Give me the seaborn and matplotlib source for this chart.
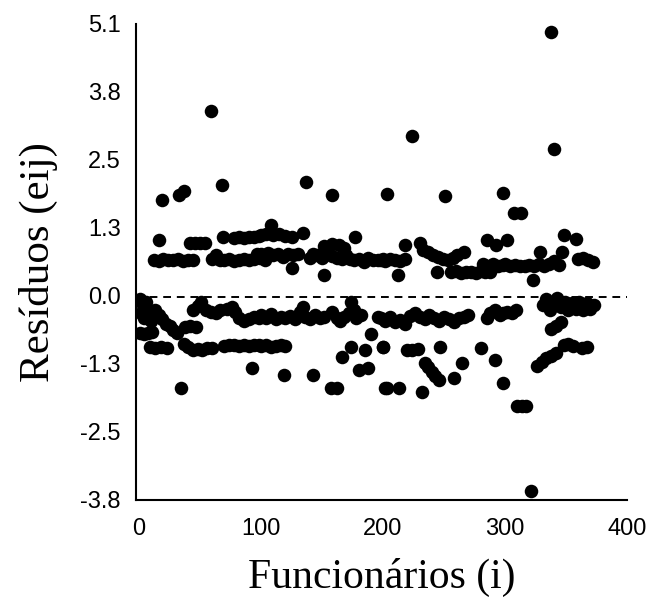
import matplotlib
matplotlib.use("Agg")
import matplotlib.pyplot as plt
import seaborn as sns
import pandas as pd
from matplotlib import font_manager

# ---- data ----
funcionario_a = [1, 2, 3, 4, 5, 6, 8, 10, 1, 4, 7, 11, 13, 16, 19, 22, 25, 28, 31,
                 9, 13, 18, 23, 34, 16, 19, 33, 37, 12, 16, 20, 24, 28, 32, 36, 40, 44]
residuo_a = [-0.05, -0.30, -0.15, -0.40, -0.25, -0.10, -0.35, -0.45, -0.68, -0.70, -0.68, -0.66,
             -0.25, -0.35, -0.42, -0.50, -0.55, -0.62, -0.68,
             -0.94, -0.95, -0.94, -0.95, -1.70, 1.06, 1.81, 1.90, 1.97,
             0.69, 0.67, 0.70, 0.69, 0.68, 0.70, 0.67, 0.69, 0.68]

funcionario_b = [42, 46, 50, 54, 59, 68, 69, 78, 82, 86, 90, 94, 98,
                 60, 63, 66, 70, 74, 78, 82, 86, 90, 94, 97, 99,
                 38, 42, 47, 44, 48, 51, 55, 59, 63, 66,
                 37, 40, 44, 48, 52, 56, 60,
                 70, 74, 78, 82, 86, 90, 94, 98,
                 72, 76, 79, 82, 86, 90, 94, 98, 93]
residuo_b = [1.00, 1.00, 1.01, 1.00, 3.47, 2.09, 1.12, 1.10, 1.12, 1.10, 1.12, 1.11, 1.13,
             0.70, 0.78, 0.69, 0.68, 0.70, 0.66, 0.69, 0.71, 0.68, 0.70, 0.80, 0.72,
             -0.56, -0.55, -0.57, -0.25, -0.18, -0.10, -0.25, -0.28, -0.30, -0.25,
             -0.88, -0.93, -1.00, -0.98, -0.99, -0.96, -0.95,
             -0.92, -0.90, -0.91, -0.92, -0.90, -0.92, -0.91, -0.90,
             -0.22, -0.20, -0.28, -0.40, -0.45, -0.42, -0.38, -0.40, -1.33]

funcionario_c = [108, 100, 104, 110, 115, 120, 125, 134, 137, 158, 177,
                 100, 103, 106, 110, 114, 118, 122, 126, 130, 125,
                 140, 143, 146, 150, 152, 154, 158, 162, 166, 170, 173,
                 152, 158, 164, 168,
                 176, 180, 184, 188, 192, 196, 200,
                 100, 104, 108, 112, 116, 120, 124, 128, 132, 134, 136, 140, 144, 148, 152,
                 158, 162, 165, 168, 172, 174, 176, 178, 182, 196,
                 100, 104, 108, 112, 116, 120,
                 119, 143, 157, 162,
                 166, 174, 180, 185, 188, 190, 200, 202]
residuo_c = [1.34, 1.15, 1.18, 1.15, 1.18, 1.14, 1.12, 1.20, 2.14, 1.90, 1.12,
             0.80, 0.69, 0.82, 0.78, 0.80, 0.75, 0.80, 0.78, 0.80, 0.54,
             0.72, 0.80, 0.78, 0.72, 0.41, 0.80, 0.76, 0.72, 0.70, 0.78, 0.70,
             0.95, 0.98, 0.96, 0.92,
             0.69, 0.70, 0.65, 0.72, 0.69, 0.68, 0.70,
             -0.35, -0.40, -0.33, -0.42, -0.38, -0.40, -0.36, -0.42, -0.28, -0.20, -0.38, -0.42, -0.35, -0.40, -0.38,
             -0.28, -0.40, -0.45, -0.38, -0.30, -0.10, -0.25, -0.40, -0.35, -0.38,
             -0.92, -0.90, -0.93, -0.92, -0.90, -0.92,
             -1.46, -1.46, -1.70, -1.70,
             -1.13, -0.94, -1.37, -1.00, -1.33, -0.70, -0.94, -1.70]

funcionario_d = [203, 224, 218, 230, 251, 298, 285, 293,
                 198, 202, 206, 210, 214, 218, 212,
                 233, 237, 241, 245, 249, 253, 257, 261, 266,
                 244, 256, 260, 264, 268, 272, 276, 280, 284, 288,
                 282, 286, 290, 294, 298,
                 198, 202, 206, 210, 214, 218, 222, 226, 230, 234, 238, 242, 246, 250, 254, 258, 262, 266, 270,
                 285, 288, 292, 296,
                 200, 220, 224, 229, 247,
                 234, 237, 240, 243, 246,
                 265, 258, 280, 292,
                 203, 213, 232, 298]
residuo_d = [1.92, 3.00, 0.97, 1.00, 1.88, 1.94, 1.06, 0.97,
             0.69, 0.66, 0.70, 0.68, 0.67, 0.70, 0.41,
             0.87, 0.84, 0.78, 0.74, 0.70, 0.68, 0.72, 0.78, 0.84,
             0.46, 0.46, 0.48, 0.45, 0.47, 0.46, 0.44, 0.48, 0.46, 0.47,
             0.62, 0.58, 0.62, 0.58, 0.60,
             -0.40, -0.45, -0.38, -0.48, -0.44, -0.50, -0.36, -0.30, -0.38, -0.42, -0.35, -0.40, -0.45, -0.38, -0.42, -0.48, -0.40, -0.38, -0.35,
             -0.40, -0.30, -0.25, -0.35,
             -0.94, -1.00, -1.00, -0.98, -0.94,
             -1.24, -1.32, -1.40, -1.48, -1.56,
             -1.24, -1.52, -0.96, -1.18,
             -1.70, -1.70, -1.78, -1.62]

funcionario_e = [338, 340, 302, 307, 313, 348, 358,
                 300, 304, 308, 312, 316, 320, 324, 328, 332, 336, 340, 344, 323, 329, 347,
                 360, 364, 368, 372,
                 298, 302, 306, 309,
                 331, 334, 337, 340, 343, 346, 349, 352, 355, 358, 361, 364, 367, 370, 373,
                 338, 342, 346,
                 348, 352, 356, 363, 367,
                 326, 330, 334, 338, 342,
                 310, 314, 317, 321]
residuo_e = [4.95, 2.76, 1.06, 1.57, 1.57, 1.16, 1.08,
             0.62, 0.58, 0.60, 0.58, 0.57, 0.60, 0.58, 0.62, 0.58, 0.62, 0.66, 0.60, 0.32, 0.84, 0.84,
             0.70, 0.72, 0.68, 0.65,
             -0.30, -0.28, -0.30, -0.25,
             -0.15, -0.05, -0.25, -0.10, -0.02, -0.20, -0.10, -0.25, -0.12, -0.22, -0.10, -0.25, -0.12, -0.22, -0.15,
             -0.60, -0.55, -0.48,
             -0.90, -0.88, -0.92, -0.95, -0.93,
             -1.30, -1.22, -1.15, -1.10, -1.05,
             -2.05, -2.05, -2.05, -3.63]

y_ticks_labels = ["-3.8", "-2.5", "-1.3", "0.0", "1.3", "2.5", "3.8", "5.1"]
x_ticks = [0, 100, 200, 300, 400]

df = pd.DataFrame({
    "i": funcionario_a + funcionario_b + funcionario_c + funcionario_d + funcionario_e,
    "e": residuo_a + residuo_b + residuo_c + residuo_d + residuo_e,
})

sns.set_style("white")
installed = {f.name for f in font_manager.fontManager.ttflist}
tick_family = ["Liberation Sans Narrow"] if "Liberation Sans Narrow" in installed else ["Liberation Sans"]
plt.rcParams["font.family"] = tick_family + ["DejaVu Sans"]
plt.rcParams["text.color"] = "black"
plt.rcParams["axes.labelcolor"] = "black"

fig = plt.figure(figsize=(6.55, 6.10), dpi=100)
ax = fig.add_axes([136 / 655, 110 / 610, (627 - 136) / 655, (500 - 24) / 610])

sns.scatterplot(data=df, x="i", y="e", ax=ax, color="black", s=95, linewidth=0,
                marker="o", legend=False, zorder=3)

ax.axhline(0, color="black", linestyle=(0, (4, 3)), linewidth=1.4, zorder=2)

ax.set_xlim(-2.5, 400)
ymin, ymax = -3.8, 5.1
ax.set_ylim(ymin, ymax)
step = (ymax - ymin) / 7
ax.set_yticks([ymin + k * step for k in range(8)])
ax.set_yticklabels(y_ticks_labels)
ax.set_xticks(x_ticks)
ax.set_xticklabels([str(v) for v in x_ticks])

for side in ["top", "right"]:
    ax.spines[side].set_visible(False)
for side in ["left", "bottom"]:
    ax.spines[side].set_linewidth(1.5)
    ax.spines[side].set_color("black")

ax.tick_params(axis="both", direction="inout", length=14, width=1.5, colors="black",
               labelsize=17)
ax.tick_params(axis="x", pad=6)
ax.tick_params(axis="y", pad=4)

serif = ["Liberation Serif", "DejaVu Serif"]
ax.set_xlabel("Funcionários (i)", fontsize=30, family=serif, labelpad=13, color="black")
ax.set_ylabel("Resíduos (eij)", fontsize=31, family=serif, labelpad=16, color="black")

fig.savefig("out.png", dpi=100)
